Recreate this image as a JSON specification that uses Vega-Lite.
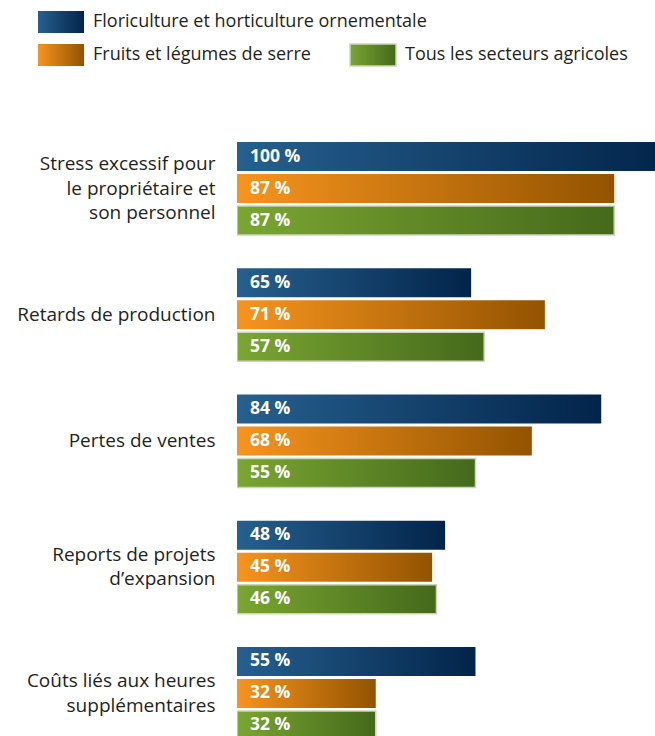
{
  "$schema": "https://vega.github.io/schema/vega-lite/v6.json",
  "autosize": "none",
  "padding": {"left": 237, "top": 125, "right": 0, "bottom": 0},
  "width": 418,
  "height": 611,
  "background": "white",
  "data": {
    "values": [
      {"category": "Stress excessif pour\nle propriétaire et\nson personnel", "series": "Floriculture et horticulture ornementale", "value": 100, "length": 100, "label": "100 %"},
      {"category": "Stress excessif pour\nle propriétaire et\nson personnel", "series": "Fruits et légumes de serre", "value": 87, "length": 87, "label": "87 %"},
      {"category": "Stress excessif pour\nle propriétaire et\nson personnel", "series": "Tous les secteurs agricoles", "value": 87, "length": 87, "label": "87 %"},
      {"category": "Retards de production", "series": "Floriculture et horticulture ornementale", "value": 65, "length": 54, "label": "65 %"},
      {"category": "Retards de production", "series": "Fruits et légumes de serre", "value": 71, "length": 71, "label": "71 %"},
      {"category": "Retards de production", "series": "Tous les secteurs agricoles", "value": 57, "length": 57, "label": "57 %"},
      {"category": "Pertes de ventes", "series": "Floriculture et horticulture ornementale", "value": 84, "length": 84, "label": "84 %"},
      {"category": "Pertes de ventes", "series": "Fruits et légumes de serre", "value": 68, "length": 68, "label": "68 %"},
      {"category": "Pertes de ventes", "series": "Tous les secteurs agricoles", "value": 55, "length": 55, "label": "55 %"},
      {"category": "Reports de projets\nd’expansion", "series": "Floriculture et horticulture ornementale", "value": 48, "length": 48, "label": "48 %"},
      {"category": "Reports de projets\nd’expansion", "series": "Fruits et légumes de serre", "value": 45, "length": 45, "label": "45 %"},
      {"category": "Reports de projets\nd’expansion", "series": "Tous les secteurs agricoles", "value": 46, "length": 46, "label": "46 %"},
      {"category": "Coûts liés aux heures\nsupplémentaires", "series": "Floriculture et horticulture ornementale", "value": 55, "length": 55, "label": "55 %"},
      {"category": "Coûts liés aux heures\nsupplémentaires", "series": "Fruits et légumes de serre", "value": 32, "length": 32, "label": "32 %"},
      {"category": "Coûts liés aux heures\nsupplémentaires", "series": "Tous les secteurs agricoles", "value": 32, "length": 32, "label": "32 %"}
    ]
  },
  "encoding": {
    "y": {
      "field": "category", "type": "nominal", "sort": null,
      "scale": {"range": [0, 632], "paddingInner": 0.263, "paddingOuter": 0.135},
      "axis": {
        "title": null, "domain": false, "ticks": false, "grid": false,
        "labelPadding": 22, "labelFont": "Open Sans", "labelFontSize": 19,
        "labelColor": "#231f20", "labelLimit": 400, "labelLineHeight": 24.5,
        "labelExpr": "split(datum.label, '\\n')",
        "labelOffset": {
          "condition": [
            {"test": "length(split(datum.value, '\\n')) === 3", "value": -24.5},
            {"test": "length(split(datum.value, '\\n')) === 2", "value": -12.25}
          ],
          "value": 0
        }
      }
    },
    "yOffset": {
      "field": "series", "type": "nominal",
      "scale": {"domain": ["Floriculture et horticulture ornementale", "Fruits et légumes de serre", "Tous les secteurs agricoles"], "paddingInner": 0.094, "paddingOuter": 0}
    }
  },
  "layer": [
    {
      "transform": [{"filter": "datum.series === 'Floriculture et horticulture ornementale'"}],
      "mark": {"type": "bar", "clip": true, "strokeWidth": 0,
        "fill": {"gradient": "linear", "x1": 0, "x2": 1, "y1": 0, "y2": 0, "stops": [{"offset": 0, "color": "#26608e"}, {"offset": 1, "color": "#02244a"}]}},
      "encoding": {
        "x": {"field": "length", "type": "quantitative", "scale": {"domain": [0, 96.4], "nice": false}, "axis": null},
        "stroke": {
          "field": "series", "type": "nominal",
          "scale": {"domain": ["Floriculture et horticulture ornementale"], "range": ["rgba(0,0,0,0)"]},
          "legend": {"orient": "none", "legendX": -200, "legendY": -127, "title": null,
            "encode": {"symbols": {"update": {
              "fill": {"signal": "{id: 'lg_blue', gradient: 'linear', x1: 0, y1: 0, x2: 1, y2: 0, stops: [{offset: 0, color: '#26608e'}, {offset: 1, color: '#02244a'}]}"},
              "strokeWidth": {"value": 0}, "opacity": {"value": 1}}}}}
        }
      }
    },
    {
      "transform": [{"filter": "datum.series === 'Fruits et légumes de serre'"}],
      "mark": {"type": "bar", "clip": true, "strokeWidth": 0,
        "fill": {"gradient": "linear", "x1": 0, "x2": 1, "y1": 0, "y2": 0, "stops": [{"offset": 0, "color": "#f7941e"}, {"offset": 1, "color": "#935300"}]}},
      "encoding": {
        "x": {"field": "length", "type": "quantitative", "scale": {"domain": [0, 96.4], "nice": false}, "axis": null},
        "stroke": {
          "field": "series", "type": "nominal",
          "scale": {"domain": ["Fruits et légumes de serre"], "range": ["rgba(0,0,0,0)"]},
          "legend": {"orient": "none", "legendX": -200, "legendY": -94, "title": null,
            "encode": {"symbols": {"update": {
              "fill": {"signal": "{id: 'lg_orange', gradient: 'linear', x1: 0, y1: 0, x2: 1, y2: 0, stops: [{offset: 0, color: '#f7941e'}, {offset: 1, color: '#935300'}]}"},
              "strokeWidth": {"value": 0}, "opacity": {"value": 1}}}}}
        }
      }
    },
    {
      "transform": [{"filter": "datum.series === 'Tous les secteurs agricoles'"}],
      "mark": {"type": "bar", "clip": true, "strokeWidth": 1.5,
        "fill": {"gradient": "linear", "x1": 0, "x2": 1, "y1": 0, "y2": 0, "stops": [{"offset": 0, "color": "#7aa632"}, {"offset": 1, "color": "#44691b"}]}},
      "encoding": {
        "x": {"field": "length", "type": "quantitative", "scale": {"domain": [0, 96.4], "nice": false}, "axis": null},
        "stroke": {
          "field": "series", "type": "nominal",
          "scale": {"domain": ["Tous les secteurs agricoles"], "range": ["#c9d7b6"]},
          "legend": {"orient": "none", "legendX": 112, "legendY": -94, "title": null,
            "encode": {"symbols": {"update": {
              "fill": {"signal": "{id: 'lg_green', gradient: 'linear', x1: 0, y1: 0, x2: 1, y2: 0, stops: [{offset: 0, color: '#7aa632'}, {offset: 1, color: '#44691b'}]}"},
              "strokeWidth": {"value": 1.5}, "opacity": {"value": 1}}}}}
        }
      }
    },
    {
      "mark": {"type": "text", "align": "left", "baseline": "middle", "dx": 13, "font": "Open Sans", "fontWeight": "bold", "fontSize": 17.5, "color": "white"},
      "encoding": {
        "x": {"datum": 0, "type": "quantitative"},
        "text": {"field": "label", "type": "nominal"}
      }
    }
  ],
  "resolve": {"scale": {"stroke": "independent"}, "legend": {"stroke": "independent"}},
  "config": {
    "view": {"stroke": null},
    "legend": {
      "labelFont": "Open Sans", "labelFontSize": 18, "labelColor": "#231f20", "labelLimit": 500,
      "symbolType": "M-1,-0.478H1V0.478H-1Z", "symbolSize": 2116, "labelOffset": 8, "padding": 0
    }
  }
}
